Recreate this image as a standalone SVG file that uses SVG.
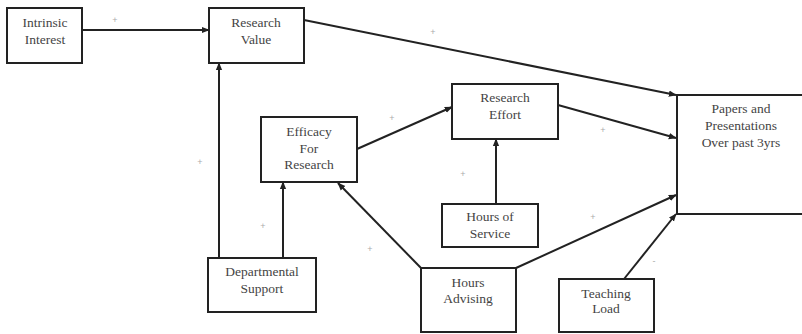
<svg xmlns="http://www.w3.org/2000/svg" width="802" height="334" viewBox="0 0 802 334">
<style>
.box{fill:#fff;stroke:#222;stroke-width:2}
.t{font-family:'Liberation Serif','Times New Roman','DejaVu Serif',serif;font-size:13.5px;fill:#444;text-anchor:middle}
.c{stroke:#222;stroke-width:2;fill:none;marker-end:url(#ah)}
.s{font-family:'Liberation Sans',sans-serif;font-size:9px;fill:#aaa;text-anchor:middle}
</style>
<defs>
<marker id="ah" viewBox="0 0 10 10" refX="9" refY="5" markerWidth="4" markerHeight="4" orient="auto" markerUnits="strokeWidth">
<path d="M0,1 L10,5 L0,9 Z" fill="#222"/>
</marker>
</defs>
<rect width="802" height="334" fill="#fff"/>
<g id="connectors">
<line class="c" x1="82" y1="30" x2="209" y2="30"/>
<line class="c" x1="304" y1="20" x2="676" y2="95"/>
<line class="c" x1="219" y1="258" x2="219" y2="63"/>
<line class="c" x1="283" y1="258" x2="283" y2="182"/>
<line class="c" x1="357" y1="149" x2="452" y2="107"/>
<line class="c" x1="496" y1="204" x2="496" y2="139"/>
<line class="c" x1="558" y1="105" x2="676" y2="138"/>
<line class="c" x1="421" y1="268" x2="338" y2="183"/>
<line class="c" x1="516" y1="268" x2="676" y2="195"/>
<line class="c" x1="624" y1="279" x2="676" y2="214"/>
</g>
<g id="signs">
<text class="s" x="115" y="23">+</text>
<text class="s" x="433" y="35">+</text>
<text class="s" x="392" y="121">+</text>
<text class="s" x="603" y="133">+</text>
<text class="s" x="463" y="177">+</text>
<text class="s" x="200" y="165">+</text>
<text class="s" x="263" y="229">+</text>
<text class="s" x="370" y="252">+</text>
<text class="s" x="593" y="220">+</text>
<text class="s" x="654" y="264">-</text>
</g>
<g id="intrinsic-interest">
<rect class="box" x="7" y="8" width="75" height="55"/>
<text class="t" x="45" y="27">Intrinsic</text>
<text class="t" x="45" y="44">Interest</text>
</g>
<g id="research-value">
<rect class="box" x="209" y="8" width="95" height="55"/>
<text class="t" x="256" y="27">Research</text>
<text class="t" x="256" y="44">Value</text>
</g>
<g id="efficacy">
<rect class="box" x="261" y="117" width="96" height="65"/>
<text class="t" x="309" y="136">Efficacy</text>
<text class="t" x="309" y="153">For</text>
<text class="t" x="309" y="169">Research</text>
</g>
<g id="research-effort">
<rect class="box" x="452" y="84" width="106" height="55"/>
<text class="t" x="505" y="102">Research</text>
<text class="t" x="505" y="119">Effort</text>
</g>
<g id="papers">
<rect class="box" x="677" y="95" width="130" height="119"/>
<text class="t" x="741" y="113">Papers and</text>
<text class="t" x="741" y="130">Presentations</text>
<text class="t" x="741" y="147">Over past 3yrs</text>
</g>
<g id="hours-of-service">
<rect class="box" x="442" y="204" width="96" height="43"/>
<text class="t" x="490" y="221">Hours of</text>
<text class="t" x="490" y="238">Service</text>
</g>
<g id="departmental-support">
<rect class="box" x="208" y="258" width="108" height="54"/>
<text class="t" x="262" y="276">Departmental</text>
<text class="t" x="262" y="293">Support</text>
</g>
<g id="hours-advising">
<rect class="box" x="421" y="268" width="95" height="64"/>
<text class="t" x="468" y="287">Hours</text>
<text class="t" x="468" y="303">Advising</text>
</g>
<g id="teaching-load">
<rect class="box" x="559" y="279" width="95" height="53"/>
<text class="t" x="606" y="298">Teaching</text>
<text class="t" x="606" y="313">Load</text>
</g>
</svg>
